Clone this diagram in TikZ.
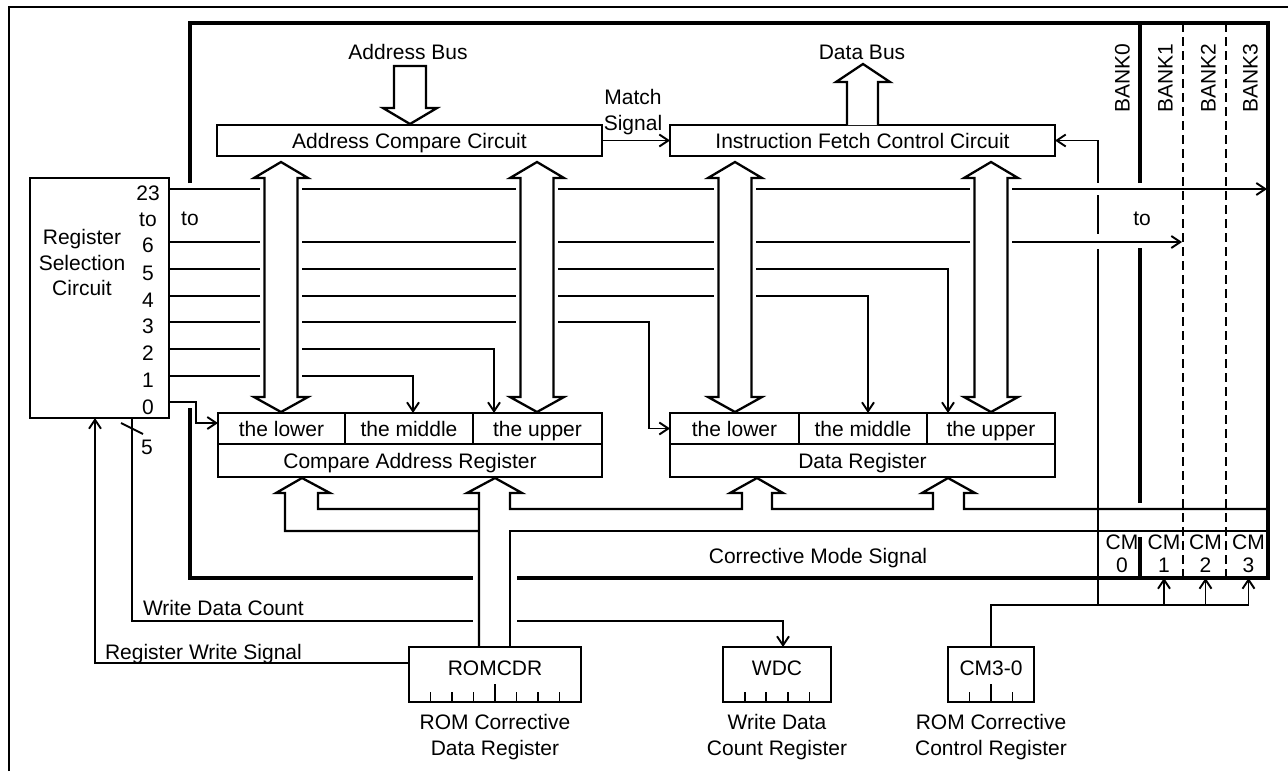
\documentclass[tikz,border=0pt]{standalone}
\usepackage{fontspec}
\setmainfont{Liberation Sans}
\usetikzlibrary{arrows.meta}
\begin{document}
\begin{tikzpicture}[x=0.5pt,y=-0.5pt,
  every node/.style={font=\fontsize{10.5pt}{12.6pt}\selectfont, inner sep=0pt, outer sep=0pt},
  box/.style={draw, line width=1.2pt},
  pxbox/.style 2 args={minimum width=#1*0.5pt, minimum height=#2*0.5pt},
  lbl/.style={text height=7.5pt, text depth=0pt},
  sig/.style={line width=0.95pt},
  arr/.style={sig, -{Straight Barb[length=4.5pt,width=6pt]}},
  thk/.style={line width=1.75pt},
  hol/.style={line width=1.15pt, line join=miter},
  dsh/.style={line width=1pt, dash pattern=on 4.5pt off 2.5pt},
  tick/.style={line width=0.9pt},
  mask/.style={fill=white, draw=none}
]
\useasboundingbox (0,0) rectangle (1288,771);

% outer border
\draw[line width=0.9pt] (9,771) -- (9,7) -- (1288,7);

% thick frame of the banks
\draw[thk] (190,183) -- (190,23) -- (1268,23) -- (1268,578) -- (190,578) -- (190,408);

% ---------- boxes ----------
\node[box,pxbox={139}{240}] (rs) at (99.5,298) {};
\node[align=center, font=\fontsize{10.5pt}{12.75pt}\selectfont] (rsT) at (82,262.5) {Register\\Selection\\Circuit};
\node[align=center, font=\fontsize{10.5pt}{13pt}\selectfont] (rsHi) at (148,219) {23\\to\\6};
\node[lbl] (n5) at (148,273) {5};
\node[lbl] (n4) at (148,300) {4};
\node[lbl] (n3) at (148,326) {3};
\node[lbl] (n2) at (148,353) {2};
\node[lbl] (n1) at (148,380) {1};
\node[lbl] (n0) at (148,407) {0};

\node[box,lbl,pxbox={385}{31}] (acc) at (409.5,140.5) {Address Compare Circuit};
\node[box,lbl,pxbox={385}{31}] (ifc) at (862.5,140.5) {Instruction Fetch Control Circuit};

\node[box,lbl,pxbox={127}{31}] (carL) at (281.5,428.5) {the lower};
\node[box,lbl,pxbox={128}{31}] (carM) at (409,428.5) {the middle};
\node[box,lbl,pxbox={129}{31}] (carU) at (537.5,428.5) {the upper};
\node[box,lbl,pxbox={384}{33}] (carB) at (410,460.5) {Compare Address Register};

\node[box,lbl,pxbox={129}{31}] (drL) at (734.5,428.5) {the lower};
\node[box,lbl,pxbox={128}{31}] (drM) at (863,428.5) {the middle};
\node[box,lbl,pxbox={128}{31}] (drU) at (991,428.5) {the upper};
\node[box,lbl,pxbox={385}{33}] (drB) at (862.5,460.5) {Data Register};

\node[box,pxbox={172}{55}] (romcdr) at (495,674.5) {};
\node[lbl] (romcdrT) at (495,668) {ROMCDR};
\node[box,pxbox={108}{55}] (wdc) at (777,674.5) {};
\node[lbl] (wdcT) at (777,668) {WDC};
\node[box,pxbox={86}{55}] (cm30) at (991,674.5) {};
\node[lbl] (cm30T) at (991,668) {CM3-0};

\foreach \k/\h in {1/10,2/10,3/10,4/18,5/10,6/10,7/10}
  \draw[tick] ([xshift=\k*10.75pt]romcdr.south west) -- ++(0,-\h);
\foreach \k in {1,2,3,4}
  \draw[tick] ([xshift=\k*10.8pt]wdc.south west) -- ++(0,-10);
\foreach \k/\h in {1/10,2/18,3/10}
  \draw[tick] ([xshift=\k*10.75pt]cm30.south west) -- ++(0,-\h);

\node[align=center, font=\fontsize{10.5pt}{13pt}\selectfont] (romcdrN) at (495,737) {ROM Corrective\\Data Register};
\node[align=center, font=\fontsize{10.5pt}{13pt}\selectfont] (wdcN) at (777,737) {Write Data\\Count Register};
\node[align=center, font=\fontsize{10.5pt}{13pt}\selectfont] (cm30N) at (991,737) {ROM Corrective\\Control Register};

% CM cells
\node[align=center, font=\fontsize{10.5pt}{11.5pt}\selectfont] (cm0) at (1122,553.5) {CM\\0};
\node[align=center, font=\fontsize{10.5pt}{11.5pt}\selectfont] (cm1) at (1164,553.5) {CM\\1};
\node[align=center, font=\fontsize{10.5pt}{11.5pt}\selectfont] (cm2) at (1205.5,553.5) {CM\\2};
\node[align=center, font=\fontsize{10.5pt}{11.5pt}\selectfont] (cm3) at (1248.5,553.5) {CM\\3};

% bank labels
\node[lbl,rotate=90] (b0) at (1122,78) {BANK0};
\node[lbl,rotate=90] (b1) at (1165,78) {BANK1};
\node[lbl,rotate=90] (b2) at (1208,78) {BANK2};
\node[lbl,rotate=90] (b3) at (1250,78) {BANK3};

% ---------- corrective mode feedback to fetch circuit ----------
\coordinate (cmj) at (1098,605);
\coordinate (cmb) at (1098,578);
\draw[arr] (cmj) |- (ifc.east);
\fill[mask] (1092,183) rectangle (1104,195);
\fill[mask] (1092,234) rectangle (1104,249);
\draw[sig] (cm30.north) |- (cm3 |- cmj);
\foreach \c in {cm1,cm2,cm3}
  \draw[arr] (\c |- cmj) -- (\c |- cmb);

% bank dividers
\draw[thk] (1140,23) -- (1140,183) (1140,248) -- (1140,503) (1140,537) -- (1140,577);
\draw[dsh] (1183,23) -- (1183,578);
\draw[dsh] (1226,23) -- (1226,578);

% ---------- register selection outputs ----------
\coordinate (r23) at (169,189);
\coordinate (r6) at (169,242);
\coordinate (r5) at (169,269);
\coordinate (r4) at (169,296);
\coordinate (r3) at (169,322);
\coordinate (r2) at (169,349);
\coordinate (r1) at (169,376);
\coordinate (r0) at (169,402);
\coordinate (bank3in) at (1267,189);
\coordinate (bank1in) at (1182,242);
\draw[arr] (r23) -- (bank3in);
\draw[arr] (r6) -- (bank1in);
\draw[arr] (r5) -| ([xshift=-21.5pt]drU.north);
\draw[arr] (r4) -| ([xshift=2.5pt]drM.north);
\draw[arr] (r3) -- ++(480,0) |- (drL.west);
\draw[arr] (r2) -| ([xshift=-21.75pt]carU.north);
\draw[arr] (r1) -| ([xshift=2pt]carM.north);
\draw[arr] (r0) -- ++(27,0) |- ([yshift=2.75pt]carL.west);
\node[lbl] (toL) at (190,218) {to};
\node[lbl] (toR) at (1142,218) {to};

% ---------- hollow double arrows ----------
\foreach \cx in {281,537,735,991} {
  \fill[mask] (\cx-21,178) rectangle (\cx+21,397);
  \draw[hol,fill=white] (\cx,162) -- (\cx+27,178) -- (\cx+16.5,178) -- (\cx+16.5,397)
     -- (\cx+27,397) -- (\cx,412) -- (\cx-27,397) -- (\cx-16.5,397) -- (\cx-16.5,178)
     -- (\cx-27,178) -- cycle;
}

% address bus / data bus
\draw[hol,fill=white] (394,66) -- (394,108) -- (383,108) -- (410,124) -- (437,108) -- (426,108) -- (426,66) -- cycle;
\node[lbl] (abus) at (408,52) {Address Bus};
\draw[hol,fill=white] (847,125) -- (847,82) -- (836,82) -- (863,64) -- (890,82) -- (878,82) -- (878,125);
\node[lbl] (dbus) at (862,52) {Data Bus};

% match signal
\draw[arr] (acc.east) -- (ifc.west);
\node[align=center] (match) at (633,112) {Match\\Signal};

% ---------- write data count / register write ----------
\draw[arr] ([xshift=16.25pt]rs.south) -- ++(0,203) -| ([xshift=3pt]wdc.north);
\draw[arr] ([yshift=5.75pt]romcdr.west) -| ([xshift=-2.25pt]rs.south);
\draw[sig] (121,423) -- (143,434);
\node[lbl] (five) at (147,447) {5};
\node[lbl,anchor=west] (wdcL) at (143,608) {Write Data Count};
\node[lbl,anchor=west] (rwL) at (105,652) {Register Write Signal};
\node[lbl] (cmsL) at (818,556) {Corrective Mode Signal};

% gaps where the ROMCDR bus crosses
\fill[mask] (473,568) rectangle (517,628);

% ---------- bus from ROMCDR ----------
\draw[hol] (479,647) -- (479,493) -- (467,493) -- (495,478) -- (522,493) -- (510,493) -- (510,509)
  -- (742,509) -- (742,493) -- (730,493) -- (757,478) -- (783,493) -- (772,493) -- (772,509)
  -- (933,509) -- (933,493) -- (922,493) -- (948,478) -- (975,493) -- (964,493) -- (964,509)
  -- (1266,509);
\draw[hol] (479,531) -- (285,531) -- (285,493) -- (276,493) -- (302,478) -- (330,493) -- (318,493) -- (318,509) -- (479,509);
\draw[hol] (1266,531) -- (510,531) -- (510,647);

\end{tikzpicture}
\end{document}
